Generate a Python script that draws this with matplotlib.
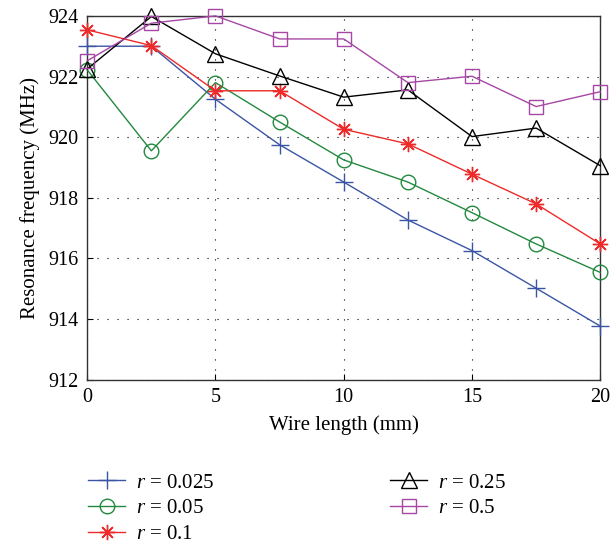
import matplotlib
matplotlib.use("Agg")
import matplotlib.pyplot as plt

x_mm = [0, 2.5, 5, 7.5, 10, 12.5, 15, 17.5, 20]
r0025 = [923.0, 923.0, 921.25, 919.75, 918.52, 917.27, 916.26, 915.02, 913.77]
r005 = [922.22, 919.55, 921.8, 920.5, 919.25, 918.52, 917.51, 916.48, 915.54]
r01 = [923.54, 923.02, 921.53, 921.53, 920.26, 919.78, 918.78, 917.8, 916.48]
r025 = [922.25, 923.98, 922.75, 922.02, 921.32, 921.56, 920.02, 920.3, 919.06]
r05 = [922.52, 923.76, 924.0, 923.24, 923.24, 921.8, 922.01, 921.01, 921.5]
labels = ["$r$ = 0.025", "$r$ = 0.05", "$r$ = 0.1", "$r$ = 0.25", "$r$ = 0.5"]
xticks = [0, 5, 10, 15, 20]
yticks = [912, 914, 916, 918, 920, 922, 924]

plt.rcParams['font.family'] = ['Liberation Serif', 'DejaVu Serif']
plt.rcParams['mathtext.fontset'] = 'custom'
plt.rcParams['mathtext.it'] = 'Liberation Serif:italic'
plt.rcParams['mathtext.rm'] = 'Liberation Serif'

fig = plt.figure(figsize=(6.10, 5.48), dpi=100)
ax = fig.add_axes([0.143, 0.307, 0.841, 0.664])

series = [r0025, r005, r01, r025, r05]
colors = ['#3B55A5', '#22893F', '#EE2A2A', '#000000', '#A647A6']
markers = ['+', 'o', (8, 2, 0), '^', 's']
msizes = [13, 10.5, 11, 12, 10.5]

for ys, c, m, ms, lab in zip(series, colors, markers, msizes, labels):
    ax.plot(x_mm, ys, color=c, marker=m, markersize=ms, markerfacecolor='none',
            markeredgecolor=c, markeredgewidth=1.0, linewidth=1.0, label=lab,
            clip_on=False, zorder=3)

ax.set_xlim(0, 20)
ax.set_ylim(912, 924)
ax.set_xticks(xticks)
ax.set_yticks(yticks)
ax.grid(True, color='black', linestyle=(0, (1, 8)), linewidth=0.8)
ax.tick_params(direction='in', length=4, labelsize=14.5, pad=6)
for s in ax.spines.values():
    s.set_linewidth(1.0)
    s.set_color('#333333')
ax.set_xlabel('Wire length (mm)', fontsize=15, labelpad=6)
ax.set_ylabel('Resonance frequency (MHz)', fontsize=15, labelpad=6)

fig.legend(loc='upper left', bbox_to_anchor=(0.144, 0.137), ncol=2, frameon=False,
           fontsize=15, handlelength=1.8, handletextpad=0.53, columnspacing=8.4,
           labelspacing=0.3, borderaxespad=0, borderpad=0)

fig.savefig('out.png', dpi=100)
